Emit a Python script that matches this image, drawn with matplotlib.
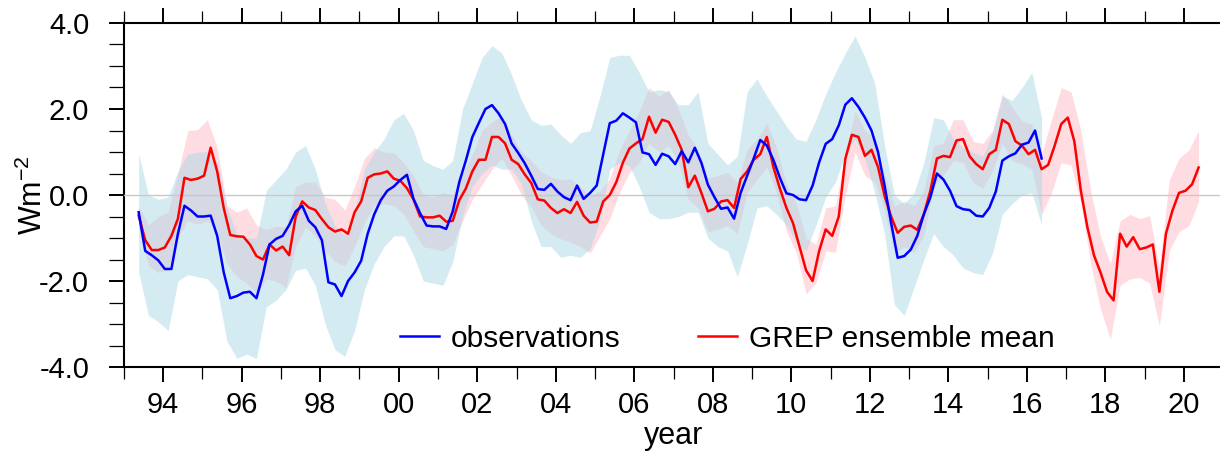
#!/usr/bin/env python3
"""
Net radiation anomaly: observations vs GREP ensemble mean, with spread bands.
"""

import numpy as np
import matplotlib
matplotlib.use('Agg')
import matplotlib.pyplot as plt
from matplotlib.ticker import MultipleLocator, FixedLocator, FuncFormatter

matplotlib.rcParams['font.family'] = ['Liberation Sans', 'DejaVu Sans']
matplotlib.rcParams['mathtext.default'] = 'regular'

# time axis of the curves: bi-monthly samples starting May 1993
T0 = 1993.375
STEP = 1 / 6
# spread bands are sampled quarterly from the same start
BAND_STEP = 0.25

# observations (Wm-2)
obs = [
    -0.40, -1.30, -1.40, -1.52, -1.72, -1.72, -0.90, -0.25, -0.36, -0.50,
    -0.50, -0.48, -0.95, -1.80, -2.40, -2.35, -2.27, -2.25, -2.40, -1.85,
    -1.15, -1.02, -0.95, -0.70, -0.38, -0.25, -0.60,
    -0.75, -1.05, -2.03, -2.08, -2.35, -2.00, -1.80, -1.53, -0.90, -0.45,
    -0.12, 0.10, 0.20, 0.35, 0.47, -0.09, -0.42, -0.71, -0.73, -0.73,
    -0.79, -0.38, 0.30, 0.80, 1.35, 1.68, 2.00, 2.09, 1.90,
    1.65, 1.20, 0.98, 0.74, 0.45, 0.14, 0.12, 0.26, 0.08, -0.05,
    -0.12, 0.22, -0.09, 0.05, 0.22, 0.95, 1.67, 1.73, 1.90, 1.80,
    1.69, 0.99, 0.95, 0.70, 0.96, 0.90, 0.72, 1.02,
    0.76, 1.10, 0.75, 0.24, -0.05, -0.32, -0.29, -0.55, 0.05, 0.45,
    0.85, 1.28, 1.15, 0.82, 0.40, 0.04, 0.00, -0.10, -0.12, 0.22,
    0.76, 1.19, 1.30, 1.62, 2.10, 2.25, 2.05, 1.80, 1.50,
    1.00, 0.22, -0.65, -1.46, -1.42, -1.27, -0.95, -0.45, -0.05, 0.50,
    0.36, 0.10, -0.26, -0.33, -0.35, -0.48, -0.50, -0.30, 0.08, 0.80,
    0.90, 0.97, 1.17, 1.22, 1.50, 0.85,
]

# GREP ensemble mean (Wm-2)
grep = [
    -0.48, -1.05, -1.28, -1.28, -1.22, -0.95, -0.55, 0.40, 0.35, 0.38,
    0.45, 1.10, 0.55, -0.30, -0.93, -0.96, -0.97, -1.15, -1.42, -1.50,
    -1.15, -1.29, -1.20, -1.40, -0.50, -0.15, -0.29,
    -0.35, -0.56, -0.75, -0.85, -0.80, -0.90, -0.40, -0.15, 0.40, 0.48,
    0.50, 0.55, 0.38, 0.33, 0.16, -0.10, -0.50, -0.52, -0.52, -0.48,
    -0.62, -0.60, -0.12, 0.15, 0.55, 0.82, 0.82, 1.35, 1.35,
    1.20, 0.82, 0.72, 0.48, 0.28, -0.10, -0.13, -0.30, -0.42, -0.33,
    -0.42, -0.16, -0.48, -0.64, -0.62, -0.15, 0.00, 0.30, 0.75, 1.08,
    1.20, 1.30, 1.82, 1.45, 1.75, 1.70, 1.40, 1.05,
    0.18, 0.45, 0.05, -0.38, -0.32, -0.15, -0.12, -0.30, 0.37, 0.55,
    0.82, 0.95, 1.35, 0.65, 0.15, -0.30, -0.65, -1.20, -1.75, -2.00,
    -1.30, -0.80, -0.95, -0.50, 0.84, 1.40, 1.35, 0.91, 1.05,
    0.65, -0.02, -0.50, -0.88, -0.74, -0.71, -0.81, -0.45, 0.10, 0.85,
    0.91, 0.88, 1.27, 1.30, 0.90, 0.72, 0.60, 0.95, 1.05, 1.75,
    1.65, 1.25, 1.15, 0.95, 1.05, 0.60, 0.70, 1.15,
    1.65, 1.80, 1.25, 0.10, -0.75, -1.40, -1.80, -2.25, -2.45, -0.90,
    -1.20, -0.98, -1.26, -1.22, -1.15, -2.25, -0.90, -0.36, 0.05, 0.10,
    0.25, 0.64,
]

# observational uncertainty band
obs_hi = [
    0.95, 0.00, -0.10, -0.05, 0.55, 0.95, 1.00, 1.00, 0.75, -0.30,
    -0.90, -1.00, -1.00, 0.10, 0.35, 0.60, 1.00, 1.15,
    0.60, -0.20, -0.70, -0.95, -0.40, 0.60, 1.00, 1.30, 1.75, 1.90,
    1.50, 0.80, 0.68, 0.60, 0.80, 2.00, 2.60, 3.20, 3.47,
    3.30, 2.80, 2.20, 1.75, 1.62, 1.65, 1.40, 1.20, 1.45, 1.50,
    2.30, 3.20, 3.25, 3.25, 2.85, 2.40, 2.45, 2.40, 2.10,
    2.10, 2.40, 1.20, 0.95, 0.70, 0.90, 2.40, 2.70, 2.30, 1.95,
    1.60, 1.30, 1.25, 1.75, 2.35, 2.85, 3.30, 3.70, 3.20,
    2.60, 1.15, 0.00, -0.20, 0.05, 0.75, 1.80, 1.75, 1.30, 1.10,
    1.00, 0.90, 1.45, 2.30, 2.20, 2.50, 2.85, 1.80,
]
obs_lo = [
    -1.80, -2.80, -2.95, -3.15, -2.00, -1.85, -1.90, -1.95, -2.20, -3.40,
    -3.80, -3.70, -3.80, -2.60, -2.45, -2.20, -1.75, -1.70,
    -2.10, -3.00, -3.60, -3.75, -3.15, -2.20, -1.60, -1.20, -0.95, -0.95,
    -1.40, -2.00, -2.05, -2.10, -1.55, -0.50, 0.20, 0.50, 0.70,
    0.60, 0.60, 0.25, -0.60, -1.20, -1.20, -1.45, -1.40, -1.45, -1.25,
    -0.60, 0.60, 0.75, 0.68, 0.20, -0.40, -0.55, -0.55, -0.50,
    -0.40, -0.40, -1.00, -1.20, -1.30, -1.90, -1.15, -0.30, -0.25, -0.45,
    -0.70, -1.10, -1.30, -0.70, -0.05, 0.30, 0.95, 1.30, 0.85,
    0.05, -0.90, -2.55, -2.80, -2.15, -1.50, -0.90, -1.20, -1.40, -1.70,
    -1.80, -1.85, -1.35, -0.45, -0.20, 0.00, 0.05, -0.70,
]

# GREP ensemble spread
grep_hi = [
    -0.25, -0.70, -0.50, -0.40, 0.50, 1.50, 1.52, 1.75, 1.10, -0.25,
    -0.40, -0.30, -0.70, -0.80, -0.72, -0.75, 0.20, 0.30,
    0.30, -0.05, -0.10, -0.35, 0.20, 0.85, 1.10, 1.00, 0.98, 0.75,
    0.45, 0.00, -0.05, 0.05, 0.00, 0.50, 0.95, 1.50, 1.70,
    1.85, 1.40, 1.00, 0.80, 0.55, 0.42, 0.35, 0.38, 0.20, -0.02,
    0.10, 0.38, 1.05, 1.50, 1.95, 2.50, 2.30, 2.45, 2.00,
    1.40, 1.05, 0.40, 0.45, 0.53, 0.30, 1.07, 1.30, 1.68, 1.10,
    0.25, -0.20, -1.00, -1.15, -0.30, -0.25, 1.00, 1.95, 1.50,
    1.30, 0.45, -0.25, -0.15, -0.25, 0.10, 1.15, 1.20, 1.75, 1.75,
    1.25, 1.20, 1.50, 2.35, 2.05, 1.72, 1.65, 0.95, 1.75,
    2.50, 2.40, 1.50, 0.10, -0.95, -1.60, -0.60, -0.45, -0.55, -0.48,
    -1.70, 0.35, 0.85, 1.05, 1.50,
]
grep_lo = [
    -0.75, -1.65, -1.80, -1.75, -1.00, -0.60, -0.68, -0.60, -0.85, -1.60,
    -1.90, -2.05, -2.30, -1.95, -2.00, -2.15, -1.20, -0.75,
    -0.95, -1.30, -1.55, -1.65, -1.20, -0.65, -0.25, -0.20, -0.25, -0.45,
    -0.85, -1.20, -1.25, -1.30, -1.15, -0.60, -0.10, 0.25, 0.60,
    0.85, 0.45, 0.00, -0.28, -0.70, -0.90, -1.02, -1.10, -1.20, -1.35,
    -0.95, -0.55, 0.05, 0.52, 0.75, 1.20, 1.00, 1.15, 0.75,
    -0.10, -0.30, -0.85, -0.80, -0.71, -0.90, 0.05, 0.36, 0.65, 0.05,
    -0.85, -1.33, -2.30, -2.05, -1.30, -1.33, 0.00, 1.00, 0.45,
    0.30, -0.35, -1.35, -1.20, -1.33, -0.95, 0.20, 0.45, 0.80, 0.75,
    0.30, 0.15, 0.55, 1.20, 0.80, 0.72, 0.60, -0.45, 0.05,
    0.75, 0.70, -0.20, -1.60, -2.65, -3.35, -2.10, -1.95, -1.92, -2.05,
    -3.05, -1.30, -0.85, -0.72, -0.15,
]

year_ticks = list(range(1994, 2021, 2))
year_labels = ['%02d' % (y % 100) for y in year_ticks]


def main(output_path='out.png'):
    t_obs = T0 + STEP * np.arange(len(obs))
    t_grep = T0 + STEP * np.arange(len(grep))
    tb_obs = T0 + BAND_STEP * np.arange(len(obs_hi))
    tb_grep = T0 + BAND_STEP * np.arange(len(grep_hi))

    fig = plt.figure(figsize=(12.2, 4.59), dpi=100)
    ax = fig.add_axes([0.1016, 0.2004, 0.901, 0.7495])

    # spread shading (pink underneath, light blue on top)
    ax.fill_between(tb_grep, grep_lo, grep_hi, color='pink', alpha=0.55,
                    lw=0, zorder=1)
    ax.fill_between(tb_obs, obs_lo, obs_hi, color='lightblue', alpha=0.5,
                    lw=0, zorder=2)

    ax.axhline(0, color='#c8c8c8', lw=1.0, zorder=3)

    ax.plot(t_grep, grep, color='red', lw=1.8, zorder=4,
            label='GREP ensemble mean')
    ax.plot(t_obs, obs, color='blue', lw=1.8, zorder=5,
            label='observations')

    ax.set_xlim(1993, 2021)
    ax.set_ylim(-4, 4)

    ax.xaxis.set_major_locator(FixedLocator(year_ticks))
    ax.set_xticklabels(year_labels)
    ax.xaxis.set_minor_locator(MultipleLocator(1))
    ax.yaxis.set_major_locator(MultipleLocator(2))
    ax.yaxis.set_minor_locator(MultipleLocator(0.5))
    ax.yaxis.set_major_formatter(FuncFormatter(lambda v, p: '%.1f' % v))

    ax.tick_params(which='both', direction='out', top=True, right=False,
                   labelsize=21, color='black')
    ax.tick_params(axis='x', which='major', length=11, width=1.4, pad=6)
    ax.tick_params(axis='x', which='minor', length=8.5, width=0.9)
    ax.tick_params(axis='y', which='major', length=10.5, width=1.4, pad=14.5)
    ax.tick_params(axis='y', which='minor', length=10.5, width=0.9)

    for side in ('left', 'bottom', 'top', 'right'):
        ax.spines[side].set_linewidth(1.5)

    ax.set_xlabel('year', fontsize=22)
    ax.set_ylabel('Wm$^{-2}$', fontsize=22)
    ax.xaxis.set_label_coords(0.5, -0.157)
    ax.yaxis.set_label_coords(-0.068, 0.5)

    handles, labels = ax.get_legend_handles_labels()
    ax.legend(handles[::-1], labels[::-1], ncol=2, frameon=False,
              fontsize=21.5, loc='center', bbox_to_anchor=(0.5487, 0.082),
              handlelength=1.3, handletextpad=0.4, columnspacing=2.6)

    fig.savefig(output_path, dpi=100)
    plt.close(fig)


if __name__ == '__main__':
    main('out.png')
